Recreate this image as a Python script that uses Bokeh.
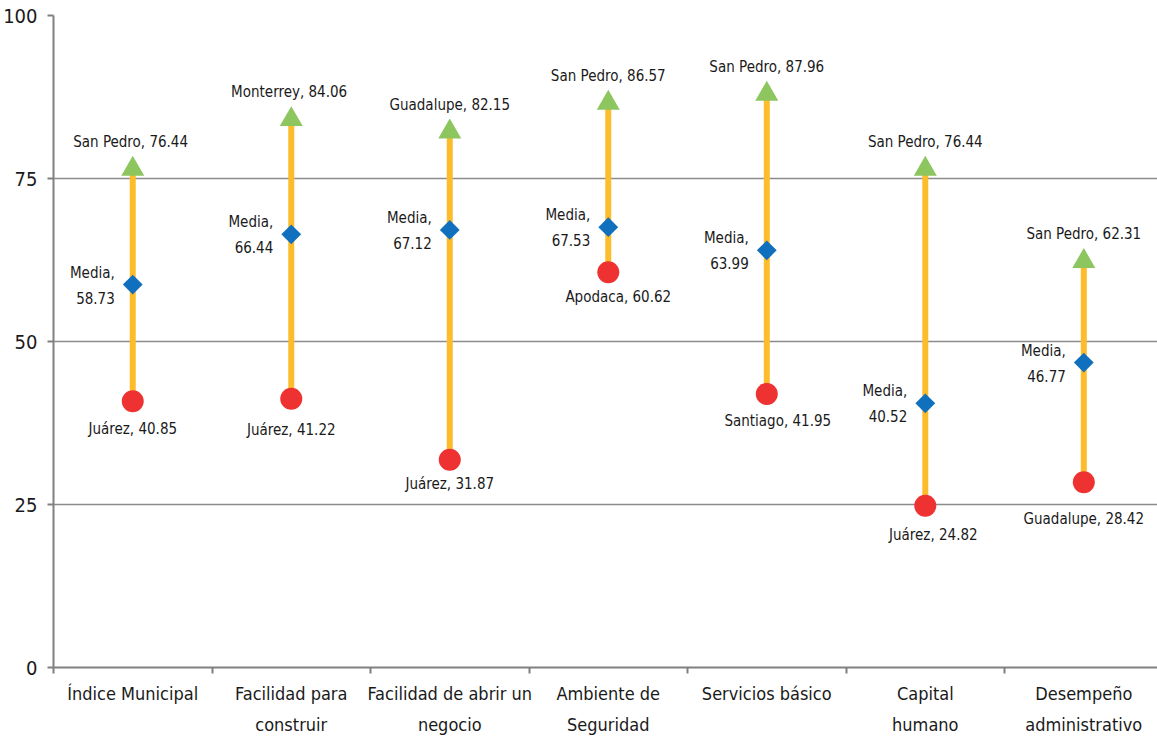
import numpy as np
from bokeh.plotting import figure
from bokeh.models import Range1d, FixedTicker, ColumnDataSource
from bokeh.core.properties import value
from bokeh.embed import file_html
from bokeh.resources import INLINE

# ---- data ----
categories = ["Índice Municipal", "Facilidad para\nconstruir", "Facilidad de abrir un\nnegocio",
              "Ambiente de\nSeguridad", "Servicios básico", "Capital\nhumano",
              "Desempeño\nadministrativo"]
max_names = ["San Pedro", "Monterrey", "Guadalupe", "San Pedro", "San Pedro", "San Pedro", "San Pedro"]
max_vals = [76.44, 84.06, 82.15, 86.57, 87.96, 76.44, 62.31]
min_names = ["Juárez", "Juárez", "Juárez", "Apodaca", "Santiago", "Juárez", "Guadalupe"]
min_vals = [40.85, 41.22, 31.87, 60.62, 41.95, 24.82, 28.42]
mean_vals = [58.73, 66.44, 67.12, 67.53, 63.99, 40.52, 46.77]
y_ticks = [0, 25, 50, 75, 100]

# ---- label texts ----
max_seps = [",  ", ",  ", ", ", ", ", ", ", ", ", ", "]
max_labels = [f"{n}{s}{v:.2f}" for n, s, v in zip(max_names, max_seps, max_vals)]
min_labels = [f"{n}, {v:.2f}" for n, v in zip(min_names, min_vals)]
mean_labels = [f"Media,\n{v:.2f}" for v in mean_vals]

# label offsets (screen px, style only)
min_dx = [0, 0, 0, 10, 11, 8, 0]
min_dy = [28, 31, 24, 25, 27, 29, 37]

FONT = "'Liberation Sans Narrow', 'DejaVu Sans Condensed', 'Roboto', sans-serif"
TXT = "#1a1a1a"

n = len(categories)
xc = [i + 0.5 for i in range(n)]

p = figure(width=1157, height=738, output_backend="svg", toolbar_location=None,
           x_range=Range1d(0, 6.965), y_range=Range1d(0, 100),
           min_border_left=53, min_border_right=0, min_border_top=15, min_border_bottom=69)
p.outline_line_color = None
p.background_fill_color = "white"

# axes
p.yaxis.ticker = FixedTicker(ticks=y_ticks, minor_ticks=[])
p.yaxis.axis_line_color = "#808080"
p.yaxis.axis_line_width = 2
p.yaxis.major_tick_line_color = "#808080"
p.yaxis.major_tick_line_width = 2
p.yaxis.major_tick_out = 6
p.yaxis.major_tick_in = 0
p.yaxis.minor_tick_line_color = None
p.yaxis.major_label_text_font = FONT
p.yaxis.major_label_text_font_size = "20px"
p.yaxis.major_label_text_color = TXT
p.yaxis.major_label_standoff = 10

p.xaxis.ticker = FixedTicker(ticks=xc, minor_ticks=list(range(n + 1)))
p.xaxis.major_label_overrides = {x: c for x, c in zip(xc, categories)}
p.xaxis.axis_line_color = "#808080"
p.xaxis.axis_line_width = 2
p.xaxis.major_tick_line_color = None
p.xaxis.major_tick_out = 0
p.xaxis.major_tick_in = 0
p.xaxis.minor_tick_line_color = "#808080"
p.xaxis.minor_tick_line_width = 2
p.xaxis.minor_tick_out = 6
p.xaxis.minor_tick_in = 0
p.xaxis.major_label_text_font = FONT
p.xaxis.major_label_text_font_size = "18px"
p.xaxis.major_label_text_color = TXT
p.xaxis.major_label_text_line_height = 1.5
p.xaxis.major_label_standoff = 9

p.xgrid.grid_line_color = None
p.ygrid.ticker = FixedTicker(ticks=y_ticks)
p.ygrid.grid_line_color = "#8c8c8c"
p.ygrid.grid_line_width = 1.5

# range lines
p.segment(x0=xc, y0=min_vals, x1=xc, y1=max_vals, line_color="#FDBC2C", line_width=6)

# markers
p.scatter(x=xc, y=max_vals, marker="triangle", size=23, fill_color="#8DC65F", line_color=None)
p.scatter(x=xc, y=min_vals, marker="circle", size=22, fill_color="#EE3131", line_color=None)
p.scatter(x=xc, y=mean_vals, marker="square", angle=np.pi / 4, size=14,
          fill_color="#1170BE", line_color=None)

# labels
LBL = "15px"
p.text(x=xc, y=max_vals, text=max_labels, text_align="center", text_baseline="middle",
       y_offset=-27, text_font=value(FONT), text_font_size=LBL, text_color=TXT)
src_min = ColumnDataSource(dict(x=xc, y=min_vals, t=min_labels, dx=min_dx, dy=min_dy))
p.text(x="x", y="y", text="t", x_offset="dx", y_offset="dy", source=src_min,
       text_align="center", text_baseline="middle",
       text_font=value(FONT), text_font_size=LBL, text_color=TXT)
p.text(x=xc, y=mean_vals, text=mean_labels, text_align="right", text_baseline="middle",
       x_offset=-18, y_offset=1, text_line_height=1.45,
       text_font=value(FONT), text_font_size=LBL, text_color=TXT)

open("out.html", "w").write(file_html(p, INLINE))
